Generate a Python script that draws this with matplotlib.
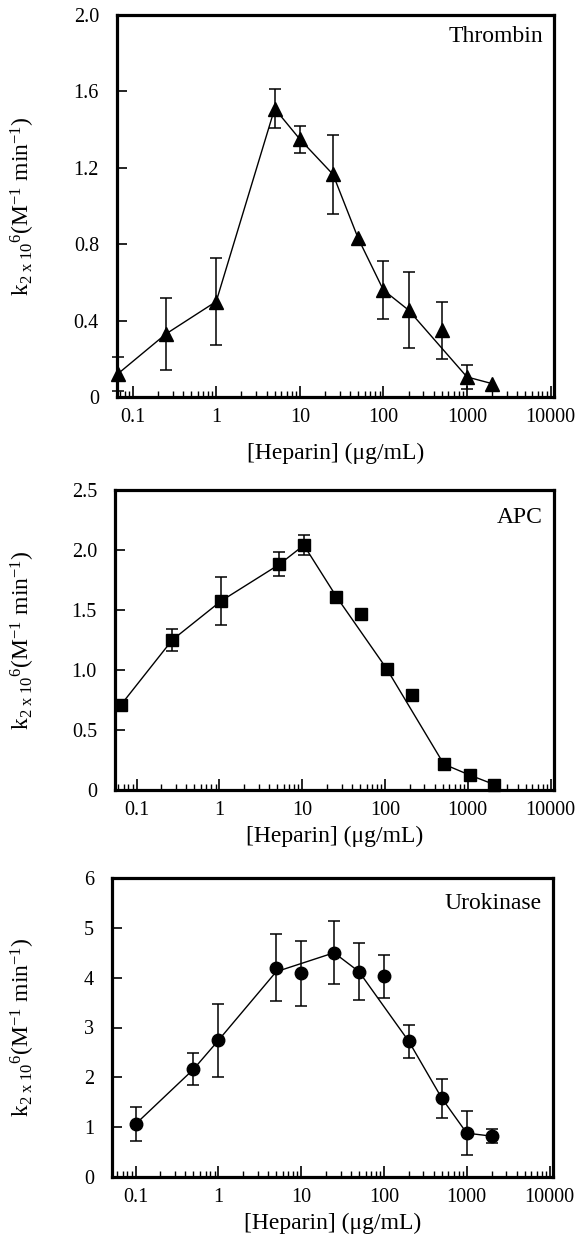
import matplotlib
matplotlib.use('Agg')
import matplotlib.pyplot as plt
from matplotlib.ticker import FixedLocator, LogLocator, NullFormatter, FixedFormatter

plt.rcParams['font.family'] = ['Liberation Serif', 'DejaVu Serif']
plt.rcParams['mathtext.fontset'] = 'custom'
plt.rcParams['mathtext.rm'] = 'Liberation Serif'
plt.rcParams['mathtext.it'] = 'Liberation Serif:italic'

# ---------------- data ----------------
thr_x = [0.066, 0.25, 1, 5, 10, 25, 50, 100, 200, 500, 1000, 2000]
thr_y = [0.12, 0.33, 0.50, 1.51, 1.35, 1.165, 0.83, 0.56, 0.455, 0.35, 0.105, 0.07]
thr_err = [0.09, 0.19, 0.23, 0.10, 0.07, 0.205, 0, 0.15, 0.20, 0.15, 0.065, 0]
thr_line_x = [0.066, 0.25, 1, 5, 10, 25, 50, 100, 200, 1000, 2000]
thr_line_y = [0.12, 0.33, 0.50, 1.51, 1.35, 1.165, 0.83, 0.56, 0.455, 0.105, 0.07]

apc_x = [0.065, 0.27, 1.05, 5.3, 10.5, 26, 52, 105, 210, 515, 1050, 2100]
apc_y = [0.71, 1.25, 1.575, 1.88, 2.04, 1.61, 1.465, 1.01, 0.79, 0.215, 0.125, 0.045]
apc_err = [0, 0.09, 0.20, 0.10, 0.085, 0, 0, 0, 0, 0, 0, 0]
apc_line_x = [0.065, 0.27, 1.05, 5.3, 10.5, 26, 105, 515, 1050, 2100]
apc_line_y = [0.71, 1.25, 1.575, 1.88, 2.04, 1.61, 1.01, 0.215, 0.125, 0.045]

uro_x = [0.1, 0.5, 1, 5, 10, 25, 50, 100, 200, 500, 1000, 2000]
uro_y = [1.06, 2.16, 2.74, 4.20, 4.09, 4.50, 4.12, 4.03, 2.72, 1.58, 0.88, 0.82]
uro_err = [0.335, 0.32, 0.74, 0.67, 0.65, 0.63, 0.57, 0.43, 0.33, 0.39, 0.44, 0.145]
uro_line_x = [0.1, 0.5, 1, 5, 25, 50, 200, 500, 1000, 2000]
uro_line_y = [1.06, 2.16, 2.74, 4.12, 4.50, 4.12, 2.72, 1.58, 0.88, 0.82]

x_ticks = [0.1, 1, 10, 100, 1000, 10000]
x_ticklabels = ['0.1', '1', '10', '100', '1000', '10000']

thr_yticks = [0, 0.4, 0.8, 1.2, 1.6, 2.0]
thr_ylabels = ['0', '0.4', '0.8', '1.2', '1.6', '2.0']
apc_yticks = [0, 0.5, 1.0, 1.5, 2.0, 2.5]
apc_ylabels = ['0', '0.5', '1.0', '1.5', '2.0', '2.5']
uro_yticks = [0, 1, 2, 3, 4, 5, 6]
uro_ylabels = ['0', '1', '2', '3', '4', '5', '6']

W, H = 575, 1236
fig = plt.figure(figsize=(W / 100, H / 100), dpi=100)


def rect(l, t, r, b):
    return [l / W, 1 - b / H, (r - l) / W, (b - t) / H]


panels = [
    dict(l=117, t=15, r=554, b=397, x=thr_x, y=thr_y, err=thr_err,
         lx=thr_line_x, ly=thr_line_y, marker='^', ms=9.5, xlim=(0.065, 11000),
         ylim=(0, 2.0), yt=thr_yticks, yl=thr_ylabels, name='Thrombin', ny=0.945,
         xpad=11),
    dict(l=115, t=490, r=554, b=790, x=apc_x, y=apc_y, err=apc_err,
         lx=apc_line_x, ly=apc_line_y, marker='s', ms=8.5, xlim=(0.055, 11000),
         ylim=(0, 2.5), yt=apc_yticks, yl=apc_ylabels, name='APC', ny=0.907,
         xpad=4),
    dict(l=112, t=878, r=553, b=1177, x=uro_x, y=uro_y, err=uro_err,
         lx=uro_line_x, ly=uro_line_y, marker='o', ms=9, xlim=(0.052, 11000),
         ylim=(0, 6), yt=uro_yticks, yl=uro_ylabels, name='Urokinase', ny=0.916,
         xpad=4),
]

ylabel = r'$\mathrm{k}_{\mathrm{2\ x\ 10}}{}^{6}$(M$^{-1}$ min$^{-1}$)'

for p in panels:
    ax = fig.add_axes(rect(p['l'], p['t'], p['r'], p['b']))
    ax.set_xscale('log')
    ax.plot(p['lx'], p['ly'], color='black', lw=1.0, zorder=2, clip_on=False)
    ex = [x for x, e in zip(p['x'], p['err']) if e > 0]
    ey = [y for y, e in zip(p['y'], p['err']) if e > 0]
    ee = [e for e in p['err'] if e > 0]
    ax.errorbar(ex, ey, yerr=ee, fmt='none', ecolor='black', elinewidth=1.1,
                capsize=4, capthick=1.1, zorder=2, clip_on=False)
    ax.plot(p['x'], p['y'], linestyle='none', marker=p['marker'], ms=p['ms'],
            color='black', zorder=3, clip_on=False)
    ax.set_xlim(*p['xlim'])
    ax.set_ylim(*p['ylim'])
    ax.xaxis.set_major_locator(FixedLocator(x_ticks))
    ax.xaxis.set_major_formatter(FixedFormatter(x_ticklabels))
    ax.xaxis.set_minor_locator(LogLocator(base=10, subs=range(2, 10)))
    ax.xaxis.set_minor_formatter(NullFormatter())
    ax.yaxis.set_major_locator(FixedLocator(p['yt']))
    ax.yaxis.set_major_formatter(FixedFormatter(p['yl']))
    ax.tick_params(axis='x', which='major', direction='in', length=8, width=1.2,
                   pad=8, labelsize=14.5)
    ax.tick_params(axis='x', which='minor', direction='in', length=4.5, width=1.0)
    ax.tick_params(axis='y', which='major', direction='in', length=7, width=1.2,
                   pad=13, labelsize=14.5)
    ax.tick_params(top=False, right=False, which='both')
    for s in ax.spines.values():
        s.set_linewidth(2.3)
    ax.set_xlabel('[Heparin] (μg/mL)', fontsize=17, labelpad=p['xpad'])
    ax.set_ylabel(ylabel, fontsize=17)
    ax.yaxis.set_label_coords((37 - p['l']) / (p['r'] - p['l']), 0.5)
    ax.text(0.975, p['ny'], p['name'], transform=ax.transAxes, ha='right',
            va='center', fontsize=17)

fig.savefig('out.png', dpi=100)
